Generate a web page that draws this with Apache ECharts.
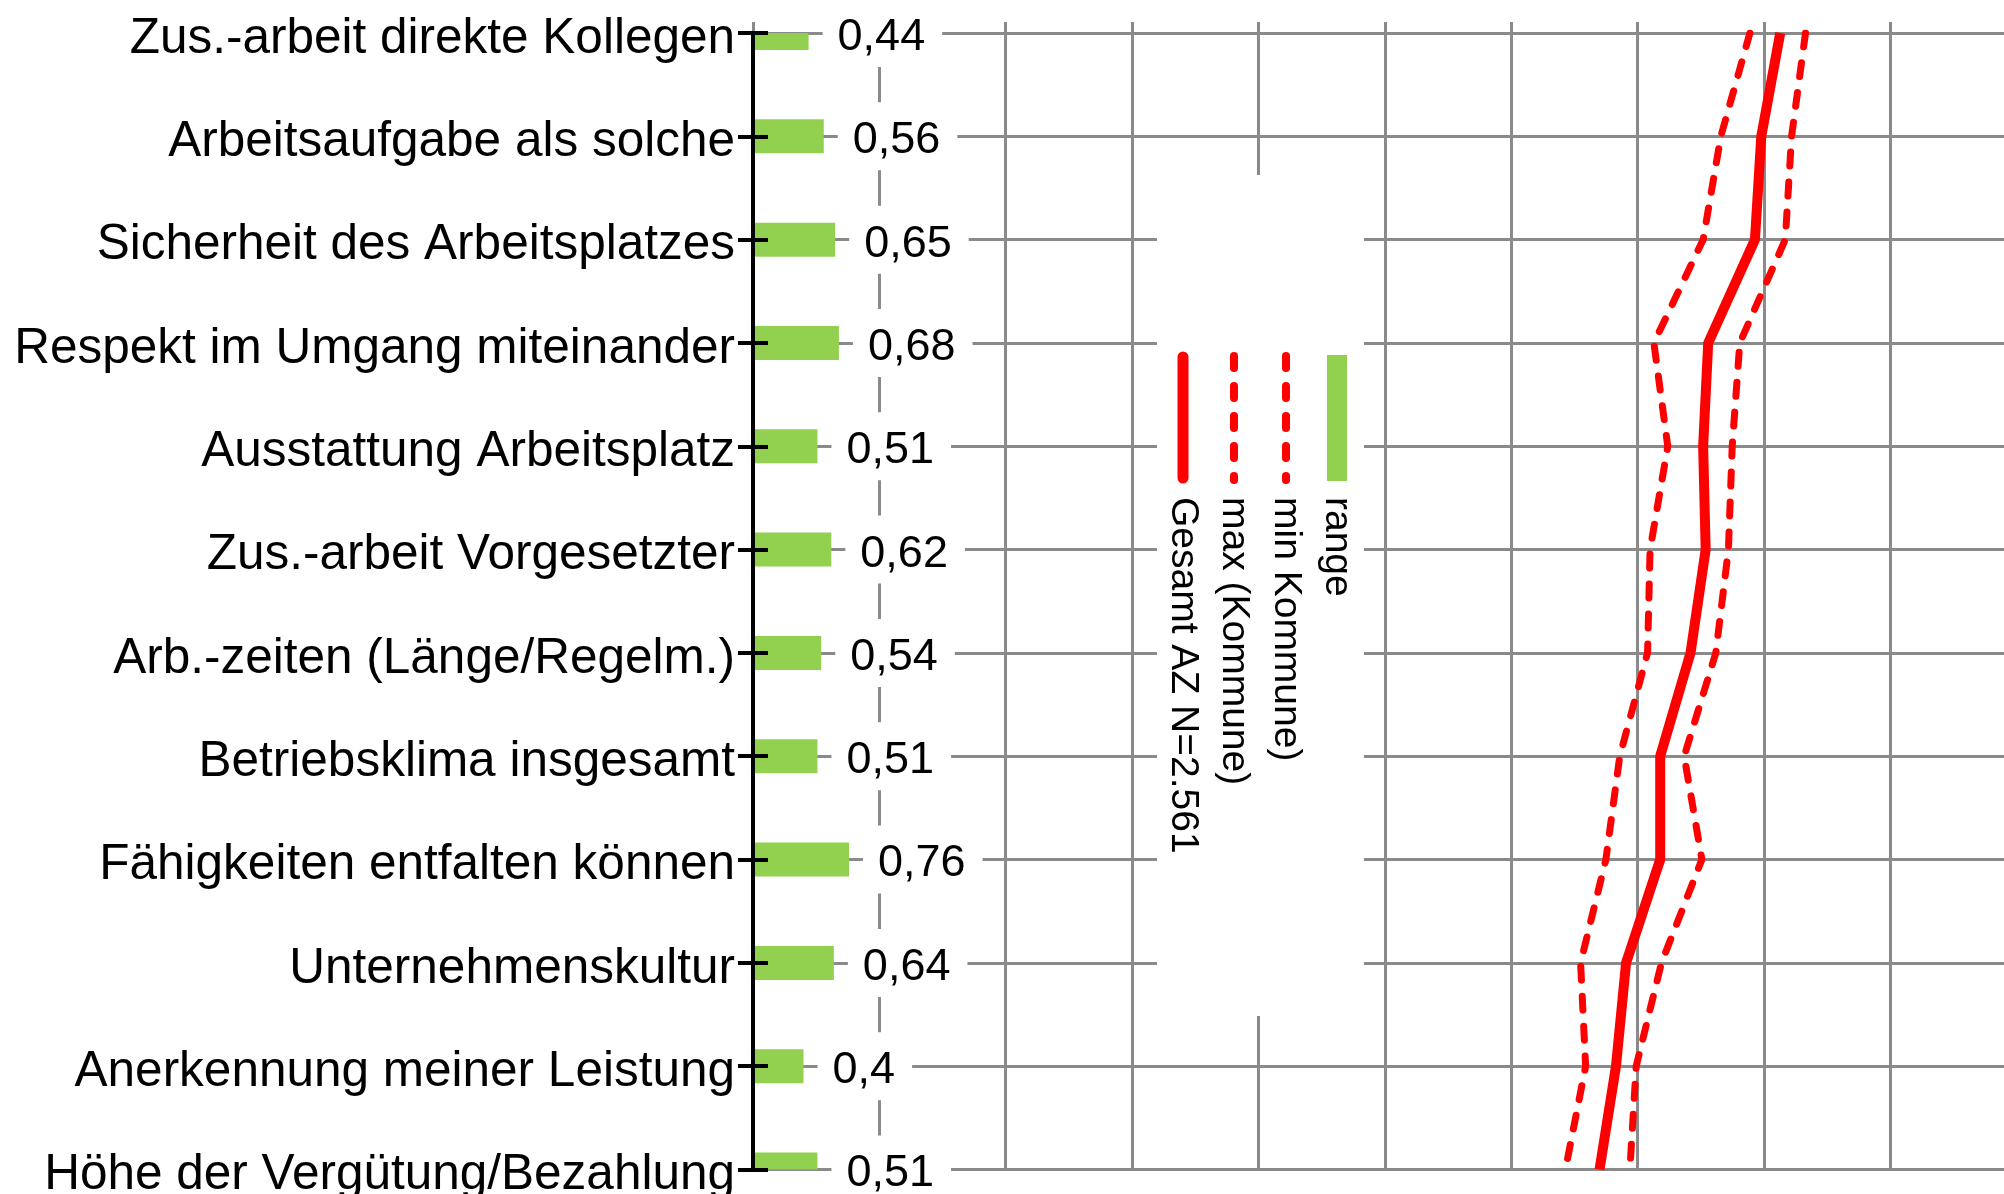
<!DOCTYPE html>
<html>
<head>
<meta charset="utf-8">
<script src="https://cdn.jsdelivr.net/npm/echarts@6/dist/echarts.min.js"></script>
<style>
  html, body { margin: 0; padding: 0; background: #fff; overflow: hidden; }
  #chart { width: 2004px; height: 1194px; }
</style>
</head>
<body>
<div id="chart"></div>
<script>
const categories = [
  'Zus.-arbeit direkte Kollegen',
  'Arbeitsaufgabe als solche',
  'Sicherheit des Arbeitsplatzes',
  'Respekt im Umgang miteinander',
  'Ausstattung Arbeitsplatz',
  'Zus.-arbeit Vorgesetzter',
  'Arb.-zeiten (Länge/Regelm.)',
  'Betriebsklima insgesamt',
  'Fähigkeiten entfalten können',
  'Unternehmenskultur',
  'Anerkennung meiner Leistung',
  'Höhe der Vergütung/Bezahlung'
];
const rangeValues = [0.44, 0.56, 0.65, 0.68, 0.51, 0.62, 0.54, 0.51, 0.76, 0.64, 0.4, 0.51];
const minKommune  = [7.89, 7.66, 7.52, 7.13, 7.24, 7.10, 7.08, 6.86, 6.75, 6.55, 6.59, 6.43];
const maxKommune  = [8.33, 8.22, 8.17, 7.81, 7.75, 7.72, 7.62, 7.37, 7.51, 7.19, 6.99, 6.94];
const gesamtAZ    = [8.13, 7.98, 7.93, 7.56, 7.52, 7.54, 7.42, 7.18, 7.18, 6.91, 6.83, 6.70];
const seriesNames = ['Gesamt AZ N=2.561', 'max (Kommune)', 'min Kommune)', 'range'];

const FONT = '"Liberation Sans", Arial, Helvetica, sans-serif';
const GRID_COLOR = '#8a8a8a';
const RED = '#ff0000';
const GREEN = '#92d050';

const gridLeft = 753, gridTop = 33, rowStep = 103.32;
const gridHeight = rowStep * (categories.length - 1);
const unitPx = 126.35;
const gridWidth = unitPx * 10;
const BAR_H = 34;

// legend (rotated, drawn as graphic)
const legendX = [1183, 1234, 1286, 1337];
const legendGraphic = [
  { type: 'rect', z: 50, shape: { x: 1157, y: 175, width: 207, height: 841 }, style: { fill: '#fff' } },
  { type: 'line', z: 51, shape: { x1: legendX[0], y1: 357, x2: legendX[0], y2: 478 },
    style: { stroke: RED, lineWidth: 11, lineCap: 'round' } },
  { type: 'line', z: 51, shape: { x1: legendX[1], y1: 356, x2: legendX[1], y2: 480 },
    style: { stroke: RED, lineWidth: 8, lineCap: 'round', lineDash: [12, 18] } },
  { type: 'line', z: 51, shape: { x1: legendX[2], y1: 356, x2: legendX[2], y2: 480 },
    style: { stroke: RED, lineWidth: 8, lineCap: 'round', lineDash: [12, 18] } },
  { type: 'rect', z: 51, shape: { x: legendX[3] - 10, y: 355, width: 20, height: 126 },
    style: { fill: GREEN } }
];
seriesNames.forEach((name, i) => {
  legendGraphic.push({
    type: 'text', z: 52, x: legendX[i], y: 497, rotation: -Math.PI / 2,
    style: {
      text: name, fill: '#000', fontSize: 39, fontFamily: FONT,
      align: 'left', verticalAlign: 'middle',
      textAlign: 'left', textVerticalAlign: 'middle'
    }
  });
});

function renderRange(params, api) {
  const v = api.value(0);
  const idx = api.value(1);
  const start = api.coord([0, idx]);
  const end = api.coord([v, idx]);
  const cs = params.coordSys;
  const rect = echarts.graphic.clipRectByRect(
    { x: start[0], y: start[1] - BAR_H / 2, width: end[0] - start[0], height: BAR_H },
    { x: cs.x, y: cs.y, width: cs.width, height: cs.height }
  );
  const label = String(v).replace('.', ',');
  const children = [];
  if (rect) {
    children.push({ type: 'rect', shape: rect, style: { fill: GREEN } });
  }
  // white box behind the value label (masks the grid lines)
  children.push({
    type: 'text', x: end[0] + 14, y: end[1], z2: 9,
    style: {
      text: label, fill: 'rgba(0,0,0,0)', fontSize: 45, fontFamily: FONT,
      align: 'left', verticalAlign: 'middle', textAlign: 'left', textVerticalAlign: 'middle',
      lineHeight: 44, backgroundColor: '#fff', padding: [12, 17, 12, 15]
    }
  });
  // the value label itself
  children.push({
    type: 'text', x: end[0] + 29, y: end[1] + 4.5, z2: 10,
    style: {
      text: label, fill: '#000', fontSize: 45, fontFamily: FONT,
      align: 'left', verticalAlign: 'middle', textAlign: 'left', textVerticalAlign: 'middle',
      lineHeight: 44
    }
  });
  return { type: 'group', children };
}

const chart = echarts.init(document.getElementById('chart'), null, { renderer: 'canvas' });
chart.setOption({
  animation: false,
  backgroundColor: '#fff',
  grid: [
    { left: gridLeft, top: gridTop, width: gridWidth, height: gridHeight,
      containLabel: false, outerBoundsMode: 'none' },
    { left: gridLeft, top: 22, width: gridWidth, height: gridHeight + (gridTop - 22),
      containLabel: false, outerBoundsMode: 'none' }
  ],
  xAxis: [
    { type: 'value', gridIndex: 0, min: 0, max: 10, interval: 1,
      axisLine: { show: false }, axisTick: { show: false }, axisLabel: { show: false },
      splitLine: { show: false } },
    { type: 'value', gridIndex: 1, min: 0, max: 10, interval: 1,
      axisLine: { show: false }, axisTick: { show: false }, axisLabel: { show: false },
      splitLine: { show: true, lineStyle: { color: GRID_COLOR, width: 3 } } }
  ],
  yAxis: [
    { type: 'category', gridIndex: 0, position: 'left', data: categories, inverse: true, boundaryGap: false,
      axisLine: { show: false },
      axisTick: { show: true, inside: false, length: 15,
        lineStyle: { color: '#000', width: 4 } },
      axisLabel: { show: true, margin: 18, fontSize: 49.5, fontFamily: FONT, color: '#000',
        interval: 0, verticalAlign: 'top', lineHeight: 12 },
      splitLine: { show: true, interval: 0, lineStyle: { color: GRID_COLOR, width: 3 } } },
    { type: 'category', gridIndex: 0, position: 'left', offset: 0, data: categories,
      inverse: true, boundaryGap: false, z: 10,
      axisLine: { show: true, lineStyle: { color: '#000', width: 4 } },
      axisTick: { show: true, inside: true, length: 15, lineStyle: { color: '#000', width: 4 } },
      axisLabel: { show: false }, splitLine: { show: false } },
    { type: 'value', gridIndex: 1, show: false }
  ],
  graphic: legendGraphic,
  series: [
    { name: seriesNames[3], type: 'custom', coordinateSystem: 'cartesian2d',
      xAxisIndex: 0, yAxisIndex: 0, z: 2, clip: false,
      data: rangeValues.map((v, i) => [v, categories[i]]),
      encode: { x: 0, y: 1 },
      renderItem: renderRange },
    { name: seriesNames[2], type: 'line', xAxisIndex: 0, yAxisIndex: 0, data: minKommune,
      showSymbol: false, symbol: 'none', z: 3,
      lineStyle: { color: RED, width: 7, type: [14, 16], cap: 'round' } },
    { name: seriesNames[1], type: 'line', xAxisIndex: 0, yAxisIndex: 0, data: maxKommune,
      showSymbol: false, symbol: 'none', z: 3,
      lineStyle: { color: RED, width: 7, type: [14, 16], cap: 'round' } },
    { name: seriesNames[0], type: 'line', xAxisIndex: 0, yAxisIndex: 0, data: gesamtAZ,
      showSymbol: false, symbol: 'none', z: 4,
      lineStyle: { color: RED, width: 10 } }
  ]
});
</script>
</body>
</html>
